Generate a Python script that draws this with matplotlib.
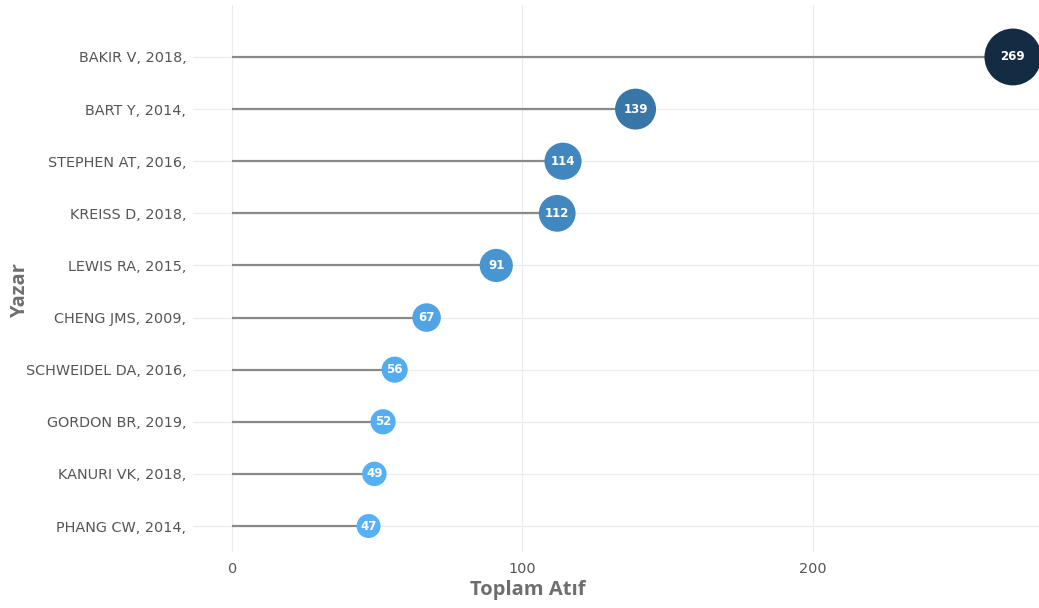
import matplotlib.pyplot as plt
from matplotlib.colors import LinearSegmentedColormap, Normalize

plt.rcParams['font.family'] = ['DejaVu Sans']

# Yazar ve toplam atif verileri
yazarlar = ["PHANG CW, 2014,", "KANURI VK, 2018,", "GORDON BR, 2019,", "SCHWEIDEL DA, 2016,",
            "CHENG JMS, 2009,", "LEWIS RA, 2015,", "KREISS D, 2018,", "STEPHEN AT, 2016,",
            "BART Y, 2014,", "BAKIR V, 2018,"]
atif = [47, 49, 52, 56, 67, 91, 112, 114, 139, 269]

cmap = LinearSegmentedColormap.from_list("mavi", ["#56B1F7", "#336A98", "#132B43"])
norm = Normalize(vmin=min(atif), vmax=max(atif))

fig = plt.figure(figsize=(10.39, 6.08), dpi=100)
ax = fig.add_axes([0.186, 0.092, 0.814, 0.9])

y = list(range(len(yazarlar)))
ax.hlines(y, 0, atif, color="#8a8a8a", linewidth=1.6, zorder=2)
sizes = [6.4 + 6.2 * v for v in atif]
ax.scatter(atif, y, s=sizes, c=[cmap(norm(v)) for v in atif], zorder=3, linewidths=0)
for v, yy in zip(atif, y):
    ax.text(v, yy, str(v), color="white", fontsize=8.5, fontweight="bold",
            ha="center", va="center", zorder=4)

ax.set_xlim(-13.4, 278)
ax.set_ylim(-0.5, 10.0)
ax.set_yticks(y)
ax.set_yticklabels(yazarlar)
ax.set_xticks([0, 100, 200])
ax.tick_params(length=0, labelsize=10.4, labelcolor="#555555", pad=5)
ax.tick_params(axis="x", pad=7)
ax.grid(True, color="#ececec", linewidth=0.9, zorder=0)
ax.set_axisbelow(True)
for s in ax.spines.values():
    s.set_visible(False)

ax.set_xlabel("Toplam Atıf", fontsize=14.5, fontweight="bold", color="#6e6e6e",
              family="Open Sans")
ax.xaxis.set_label_coords(0.396, -0.051)
ax.set_ylabel("Yazar", fontsize=14.5, fontweight="bold", color="#6e6e6e",
              family="Open Sans")
ax.yaxis.set_label_coords(-0.193, 0.477)

fig.savefig("out.png", dpi=100)
